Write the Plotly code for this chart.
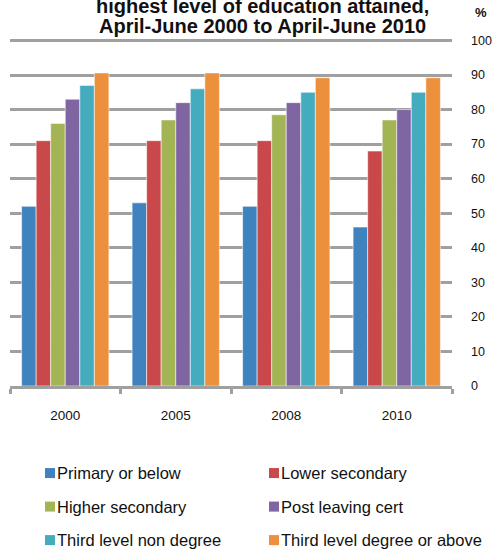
import plotly.graph_objects as go

# Survey years (categories on the x axis)
years = ["2000", "2005", "2008", "2010"]

# Education level series (%)
primary_or_below = [52, 53, 52, 46]
lower_secondary = [71, 71, 71, 68]
higher_secondary = [76, 77, 78.5, 77]
post_leaving_cert = [83, 82, 82, 80]
third_level_non_degree = [87, 86, 85, 85]
third_level_degree = [90.6, 90.6, 89.2, 89.2]

series_names = [
    "Primary or below",
    "Lower secondary",
    "Higher secondary",
    "Post leaving cert",
    "Third level non degree",
    "Third level degree or above",
]
series_values = [
    primary_or_below,
    lower_secondary,
    higher_secondary,
    post_leaving_cert,
    third_level_non_degree,
    third_level_degree,
]
series_colors = ["#3F83BE", "#C9494A", "#A3B455", "#7F65A1", "#45ACBF", "#EC903D"]

y_ticks = list(range(0, 101, 10))

W, H = 498, 549
PLOT_L, PLOT_R = 10, 452
Y_MAX = 101  # a little headroom so the 100 gridline is drawn
PX_PER_UNIT = 3.453
PLOT_B = 386
PLOT_T = PLOT_B - Y_MAX * PX_PER_UNIT
plot_w = PLOT_R - PLOT_L
plot_h = PLOT_B - PLOT_T


def px_x(px):
    return (px - PLOT_L) / plot_w


def px_y(py):
    return (PLOT_B - py) / plot_h


FONT = "Liberation Sans, Arial, sans-serif"
GRID = "#a0a0a0"

fig = go.Figure()
for name, vals, col in zip(series_names, series_values, series_colors):
    fig.add_trace(
        go.Bar(
            x=years,
            y=vals,
            name=name,
            marker=dict(color=col, line=dict(color="rgba(255,255,255,0.55)", width=1)),
            showlegend=False,
        )
    )

fig.update_layout(
    width=W,
    height=H,
    margin=dict(l=PLOT_L, r=W - PLOT_R, t=PLOT_T, b=H - PLOT_B, pad=0, autoexpand=False),
    paper_bgcolor="white",
    plot_bgcolor="white",
    barmode="group",
    bargap=0.21,
    bargroupgap=0,
    font=dict(family=FONT, color="#111111"),
)

fig.update_xaxes(
    type="category",
    automargin=False,
    showgrid=False,
    showline=True,
    linecolor=GRID,
    linewidth=2.5,
    ticks="outside",
    tickson="boundaries",
    ticklen=5,
    tickwidth=3,
    tickcolor=GRID,
    tickfont=dict(size=13.5, family=FONT, color="#111111"),
    ticklabelstandoff=15,
)

fig.update_yaxes(
    side="right",
    automargin=False,
    range=[0, Y_MAX],
    tickvals=y_ticks,
    ticktext=[str(v) for v in y_ticks],
    showgrid=True,
    gridcolor=GRID,
    gridwidth=3,
    zeroline=False,
    showline=False,
    ticks="",
    tickfont=dict(size=12.5, family=FONT, color="#111111"),
    ticklabelstandoff=18,
)

annotations = [
    dict(
        text="<b>highest level of education attained,</b>",
        x=px_x(262), y=px_y(6), xref="paper", yref="paper",
        xanchor="center", yanchor="middle", showarrow=False,
        font=dict(size=20, family=FONT, color="#111111"),
    ),
    dict(
        text="<b>April-June 2000 to April-June 2010</b>",
        x=px_x(262), y=px_y(26.5), xref="paper", yref="paper",
        xanchor="center", yanchor="middle", showarrow=False,
        font=dict(size=20, family=FONT, color="#111111"),
    ),
    dict(
        text="<b>%</b>",
        x=px_x(481), y=px_y(13), xref="paper", yref="paper",
        xanchor="center", yanchor="middle", showarrow=False,
        font=dict(size=13, family=FONT, color="#111111"),
    ),
]

# Two-column legend built from the series names and colours
shapes = []
col_sq_x = [45, 269]
col_txt_x = [55, 279]
row_y = [473, 506.5, 540]
for i, (name, col) in enumerate(zip(series_names, series_colors)):
    c, r = i % 2, i // 2
    sx, cy = col_sq_x[c], row_y[r]
    shapes.append(
        dict(
            type="rect", xref="paper", yref="paper",
            x0=px_x(sx), x1=px_x(sx + 10), y0=px_y(cy - 5), y1=px_y(cy + 5),
            fillcolor=col, line=dict(width=0),
        )
    )
    annotations.append(
        dict(
            text=name, x=px_x(col_txt_x[c]), y=px_y(cy), xref="paper", yref="paper",
            xanchor="left", yanchor="middle", showarrow=False,
            font=dict(size=16.5, family=FONT, color="#111111"),
        )
    )

fig.update_layout(annotations=annotations, shapes=shapes)

fig.write_html("out.html")
